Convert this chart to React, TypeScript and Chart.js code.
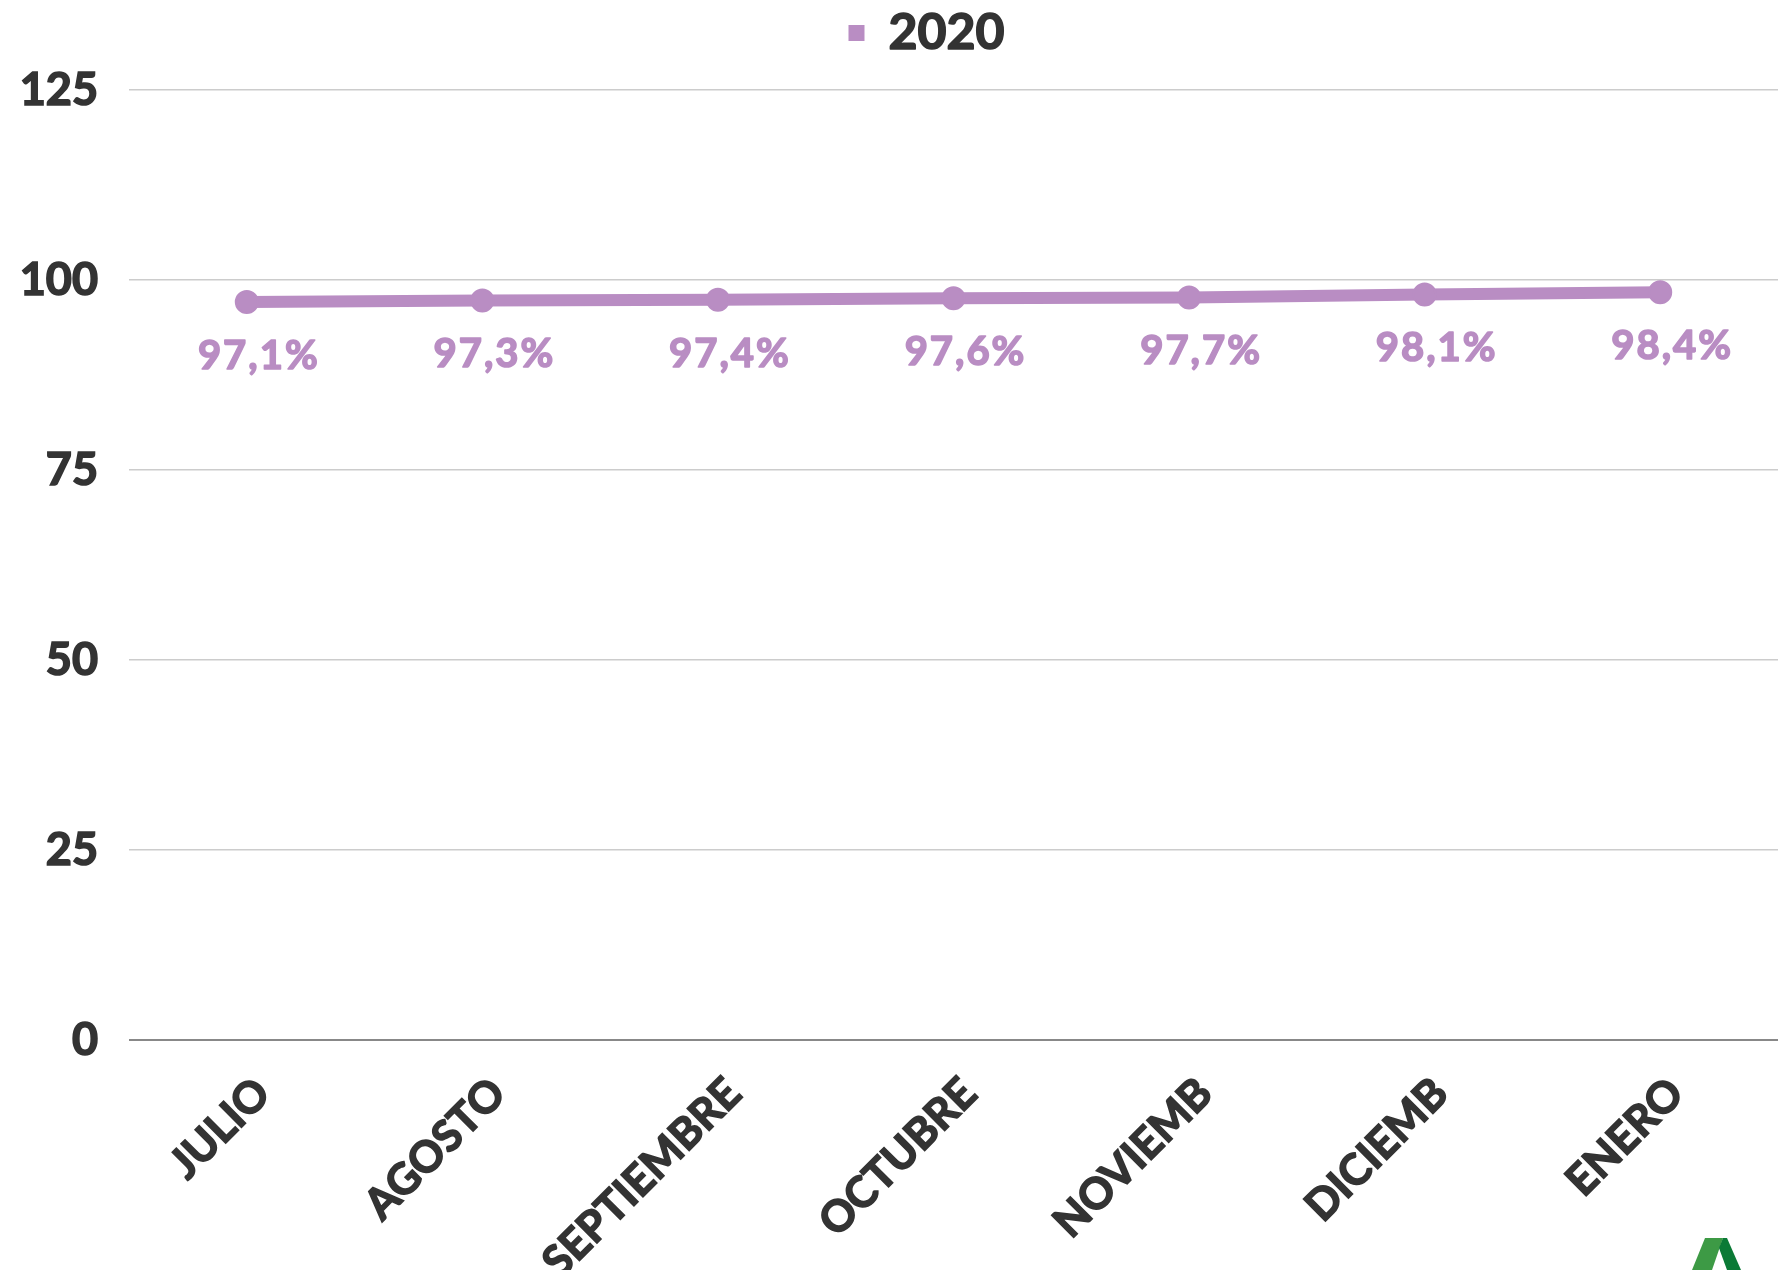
import React, { useEffect, useRef } from "react";
import { Chart, registerables } from "chart.js";

Chart.register(...registerables);

const categories = ["JULIO", "AGOSTO", "SEPTIEMBRE", "OCTUBRE", "NOVIEMB", "DICIEMB", "ENERO"];
const seriesName = "2020";
const values2020 = [97.1, 97.3, 97.4, 97.6, 97.7, 98.1, 98.4];
const yTicks = [0, 25, 50, 75, 100, 125];

const PURPLE = "#b98dc3";
const TEXT = "#333333";
const FONT = "Lato, 'Open Sans', sans-serif";
const LEGEND_SIZE = 50;
const LEGEND_BOX = 14;

const legendPlugin = {
  id: "legendTweak",
  beforeInit(chart: any) {
    const lg = chart.legend;
    if (lg && !lg._patched) {
      const orig = lg.fit.bind(lg);
      lg.fit = function () {
        orig();
        this.height = 90;
      };
      lg._patched = true;
    }
  },
  afterLayout(chart: any) {
    const lg = chart.legend;
    if (lg) {
      lg.left += 38;
      lg.right += 38;
    }
  },
  afterDraw(chart: any) {
    const lg = chart.legend;
    if (!lg || !lg.legendHitBoxes || !lg.legendItems) return;
    const ctx = chart.ctx;
    ctx.save();
    ctx.font = `bold ${LEGEND_SIZE}px ${FONT}`;
    ctx.strokeStyle = TEXT;
    ctx.lineWidth = 1.6;
    ctx.lineJoin = "round";
    ctx.textAlign = "left";
    ctx.textBaseline = "middle";
    const itemHeight = Math.max(LEGEND_SIZE, LEGEND_BOX);
    lg.legendHitBoxes.forEach((hb: any, i: number) => {
      const item = lg.legendItems[i];
      ctx.strokeText(item.text, hb.left + LEGEND_BOX + LEGEND_SIZE / 2, hb.top + itemHeight / 2);
    });
    ctx.restore();
  },
};

const dataLabelPlugin = {
  id: "dataLabels",
  afterDatasetsDraw(chart: any) {
    const ctx = chart.ctx;
    const meta = chart.getDatasetMeta(0);
    const ds = chart.data.datasets[0];
    ctx.save();
    ctx.font = `bold 40px ${FONT}`;
    (ctx as any).letterSpacing = "2px";
    ctx.fillStyle = PURPLE;
    ctx.strokeStyle = PURPLE;
    ctx.lineWidth = 1.6;
    ctx.lineJoin = "round";
    ctx.textAlign = "center";
    ctx.textBaseline = "middle";
    meta.data.forEach((pt: any, i: number) => {
      const v = ds.data[i] as number;
      const label = v.toFixed(1).replace(".", ",") + "%";
      ctx.fillText(label, pt.x + 12, pt.y + 54);
      ctx.strokeText(label, pt.x + 12, pt.y + 54);
    });
    ctx.restore();
  },
};

const logoPlugin = {
  id: "logo",
  afterDraw(chart: any) {
    const ctx = chart.ctx;
    ctx.save();
    ctx.fillStyle = "#3d9a45";
    ctx.beginPath();
    ctx.moveTo(1692, 1270);
    ctx.lineTo(1705, 1238);
    ctx.lineTo(1723, 1238);
    ctx.lineTo(1712, 1270);
    ctx.closePath();
    ctx.fill();
    ctx.fillStyle = "#0b7a36";
    ctx.beginPath();
    ctx.moveTo(1719, 1248);
    ctx.lineTo(1723, 1238);
    ctx.lineTo(1727, 1238);
    ctx.lineTo(1741, 1270);
    ctx.lineTo(1727, 1270);
    ctx.closePath();
    ctx.fill();
    ctx.restore();
  },
};

export default function App() {
  const ref = useRef<HTMLCanvasElement | null>(null);

  useEffect(() => {
    if (!ref.current) return;
    const chart = new Chart(ref.current, {
      type: "line",
      data: {
        labels: categories,
        datasets: [
          {
            label: seriesName,
            data: values2020,
            borderColor: PURPLE,
            backgroundColor: PURPLE,
            borderWidth: 12,
            pointRadius: 11,
            pointBorderWidth: 2,
            pointBackgroundColor: PURPLE,
            pointBorderColor: PURPLE,
            tension: 0,
            fill: false,
          },
        ],
      },
      options: {
        responsive: false,
        animation: false,
        layout: { padding: { left: 0, right: 14, top: 0, bottom: 0 } },
        plugins: {
          legend: {
            display: true,
            position: "top",
            align: "center",
            labels: {
              usePointStyle: true,
              pointStyle: "rect",
              boxWidth: LEGEND_BOX,
              boxHeight: LEGEND_BOX,
              padding: 8,
              color: TEXT,
              font: { family: FONT, size: LEGEND_SIZE, weight: "bold" },
            },
          },
          tooltip: { enabled: false },
        },
        scales: {
          x: {
            type: "category",
            offset: true,
            grid: { display: false, drawTicks: false },
            border: { display: false },
            ticks: {
              autoSkip: false,
              minRotation: 45,
              maxRotation: 45,
              padding: 28,
              labelOffset: 16,
              color: TEXT,
              textStrokeColor: TEXT,
              textStrokeWidth: 1.6,
              font: { family: FONT, size: 43, weight: "bold" },
            } as any,
            afterFit(scale: any) {
              scale.height = 230;
            },
          },
          y: {
            min: 0,
            max: 125,
            afterBuildTicks(scale: any) {
              scale.ticks = yTicks.map((v) => ({ value: v }));
            },
            grid: {
              drawTicks: false,
              color: (c: any) => (c.tick && c.tick.value === 0 ? "#888888" : "#cccccc"),
              lineWidth: (c: any) => (c.tick && c.tick.value === 0 ? 2 : 1.5),
            },
            border: { display: false },
            ticks: {
              padding: 31,
              color: TEXT,
              textStrokeColor: TEXT,
              textStrokeWidth: 1.6,
              font: { family: FONT, size: 45, weight: "bold" },
            } as any,
            afterFit(scale: any) {
              scale.width = 129;
            },
          },
        },
      },
      plugins: [legendPlugin, dataLabelPlugin, logoPlugin],
    });
    return () => chart.destroy();
  }, []);

  return (
    <div style={{ position: "fixed", left: 0, top: 0, width: 1792, height: 1270, background: "#fff" }}>
      <canvas ref={ref} width={1792} height={1270} style={{ display: "block" }} />
    </div>
  );
}
